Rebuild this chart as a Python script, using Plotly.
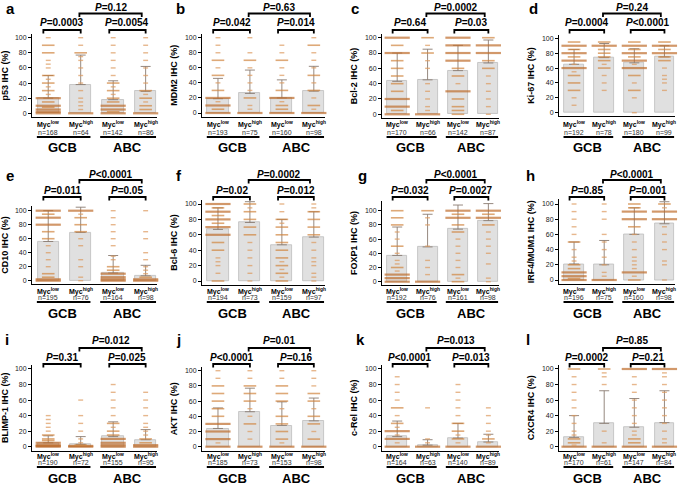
import plotly.graph_objects as go

W, H = 685, 487

letters = ["a", "b", "c", "d", "e", "f", "g", "h", "i", "j", "k", "l"]
ylabels = ["p53 IHC (%)", "MDM2 IHC (%)", "Bcl-2 IHC (%)", "Ki-67 IHC (%)",
           "CD10 IHC (%)", "Bcl-6 IHC (%)", "FOXP1 IHC (%)", "IRF4/MUM1 IHC (%)",
           "BLIMP-1 IHC (%)", "AKT IHC (%)", "c-Rel IHC (%)", "CXCR4 IHC (%)"]
groups = ["Myc<sup>low</sup>", "Myc<sup>high</sup>", "Myc<sup>low</sup>", "Myc<sup>high</sup>"]
subtypes = ["GCB", "ABC"]

# bar heights (mean) and top of error bar (mean + SD)
means = [[20, 38, 18, 29], [19, 26, 20, 29], [43, 45, 57, 67], [65, 74, 67, 75],
         [56, 69, 11, 7], [67, 76, 47, 57], [37, 49, 74, 86], [21, 20, 60, 74],
         [5, 3, 13, 9], [24, 46, 28, 34], [13, 2, 11, 6], [12, 30, 25, 31]]
caps = [[50, 77, 43, 62], [46, 57, 44, 62], [80, 85, 90, 97], [85, 93, 86, 90],
        [100, 105, 36, 22], [95, 103, 80, 90], [77, 95, 108, 110], [50, 52, 95, 103],
        [14, 13, 32, 22], [51, 77, 59, 64], [33, 9, 30, 16], [40, 72, 62, 72]]
ns = [[168, 64, 142, 86], [193, 75, 160, 98], [170, 66, 142, 87], [192, 78, 180, 99],
      [195, 76, 164, 98], [194, 73, 159, 97], [192, 76, 161, 98], [196, 75, 160, 98],
      [190, 72, 155, 95], [185, 73, 153, 98], [164, 63, 140, 89], [170, 61, 147, 84]]
p_gcb = ["=0.0003", "=0.042", "=0.64", "=0.0004", "=0.011", "=0.02", "=0.032", "=0.85",
         "=0.31", "&lt;0.0001", "&lt;0.0001", "=0.0002"]
p_abc = ["=0.0054", "=0.014", "=0.03", "&lt;0.0001", "=0.05", "=0.012", "=0.0027", "=0.001",
         "=0.025", "=0.16", "=0.013", "=0.21"]
p_top = ["=0.12", "=0.63", "=0.0002", "=0.24", "&lt;0.0001", "=0.0002", "&lt;0.0001", "&lt;0.0001",
         "=0.012", "=0.01", "=0.013", "=0.85"]

# observed score levels per bar: [value, density (1 sparse .. 3 dense)]
lv_a = [[[0,3],[2,3],[5,3],[8,2],[10,3],[15,2],[20,3],[25,1],[30,2],[35,1],[40,2],[45,1],[50,2],[60,1],[65,1],[70,1],[80,2],[90,2],[100,1]],
        [[0,3],[5,1],[10,1],[15,1],[20,1],[30,1],[40,1],[50,1],[60,1],[70,1],[75,1],[80,2],[90,1],[100,1]],
        [[0,3],[2,2],[5,3],[10,3],[15,2],[20,2],[25,1],[30,2],[35,1],[40,2],[50,1],[60,1],[70,1],[80,1],[90,1],[100,1]],
        [[0,3],[5,2],[10,2],[15,1],[20,2],[25,1],[30,2],[40,1],[50,1],[60,1],[70,1],[80,1],[90,1],[100,1]]]
lv_b = [[[0,3],[5,2],[10,3],[15,1],[20,3],[30,2],[40,1],[50,2],[60,1],[70,2],[80,1],[90,1],[100,1]],
        [[0,3],[5,1],[10,1],[20,2],[30,1],[40,1],[50,1],[60,1],[70,2],[80,1],[100,1]],
        [[0,3],[5,2],[10,2],[15,1],[20,3],[30,2],[40,1],[50,1],[60,1],[70,2],[80,1],[90,1]],
        [[0,3],[5,1],[10,2],[20,1],[30,2],[40,1],[50,2],[60,1],[70,1],[80,1],[90,2],[100,1]]]
lv_c = [[[0,3],[5,2],[10,3],[20,3],[30,2],[40,2],[50,2],[60,2],[70,2],[80,3],[90,2],[100,3]],
        [[0,3],[5,1],[10,1],[20,1],[30,1],[40,1],[60,1],[70,1],[80,2],[90,1],[100,2]],
        [[0,2],[5,2],[10,2],[20,2],[30,3],[40,1],[50,2],[60,2],[70,3],[80,3],[90,3],[100,3]],
        [[0,1],[10,1],[20,1],[30,1],[40,1],[50,1],[60,2],[70,2],[80,3],[90,3],[100,2]]]
lv_d = [[[10,1],[20,1],[30,2],[40,2],[50,2],[55,1],[60,3],[65,1],[70,3],[75,2],[80,3],[85,2],[90,3],[95,2]],
        [[30,1],[40,1],[50,1],[60,2],[65,1],[70,2],[75,2],[80,2],[85,2],[90,3],[95,2]],
        [[0,1],[20,1],[30,2],[40,1],[50,2],[60,3],[65,1],[70,3],[75,2],[80,3],[85,2],[90,3],[95,2]],
        [[30,1],[40,1],[45,1],[50,1],[60,1],[70,2],[75,2],[80,3],[85,2],[90,3],[95,2]]]
lv_e = [[[0,3],[2,3],[5,2],[10,2],[20,1],[30,1],[40,1],[50,1],[60,2],[70,2],[80,3],[90,3],[95,2],[100,3]],
        [[0,1],[5,1],[20,1],[30,1],[50,1],[60,1],[70,2],[80,2],[90,2],[95,1],[100,3]],
        [[0,3],[2,3],[5,3],[10,3],[15,2],[20,2],[30,1],[35,1],[50,1],[60,1],[70,1],[80,1],[90,1],[100,1]],
        [[0,3],[2,3],[5,2],[10,1],[15,1],[20,1],[30,1],[40,1],[60,1],[70,1],[100,1]]]
lv_f = [[[0,2],[10,1],[20,1],[25,1],[30,1],[40,2],[50,2],[60,3],[70,3],[75,2],[80,3],[85,2],[90,3],[95,2],[100,3]],
        [[0,1],[10,1],[20,1],[30,1],[40,1],[50,1],[60,2],[70,2],[80,2],[90,2],[95,1],[100,2]],
        [[0,2],[5,1],[10,2],[15,1],[20,2],[25,1],[30,2],[40,2],[50,2],[60,2],[70,2],[75,1],[80,2],[90,1],[100,1]],
        [[0,1],[5,1],[10,1],[20,1],[25,1],[30,1],[40,1],[50,1],[60,2],[70,2],[80,2],[90,2],[95,1],[100,1]]]
lv_g = [[[0,3],[5,3],[10,3],[15,1],[20,2],[25,1],[30,1],[40,1],[50,2],[60,1],[70,1],[80,2],[90,2],[100,2]],
        [[0,3],[10,1],[20,1],[30,1],[50,1],[80,1],[90,1],[100,2]],
        [[0,2],[5,1],[10,2],[20,1],[30,1],[40,1],[50,1],[60,1],[70,2],[80,2],[90,3],[95,2],[100,3]],
        [[0,1],[5,1],[25,1],[40,1],[50,1],[60,1],[70,1],[80,2],[90,3],[95,2],[100,3]]]
lv_h = [[[0,3],[2,2],[5,3],[10,3],[15,2],[20,2],[25,1],[30,1],[40,1],[50,2],[60,1],[70,1],[80,1],[90,1],[100,1]],
        [[0,3],[5,1],[10,1],[20,1],[30,1],[40,1],[50,1],[60,1],[80,1],[90,1],[100,1]],
        [[0,2],[5,1],[10,3],[15,1],[20,1],[25,1],[30,1],[40,1],[50,1],[60,1],[70,2],[80,3],[90,3],[95,2],[100,2]],
        [[0,1],[20,1],[25,1],[40,1],[50,1],[60,1],[70,1],[80,3],[90,3],[95,1],[100,2]]]
lv_i = [[[0,3],[1,3],[2,3],[5,3],[8,2],[10,2],[15,2],[20,1],[25,1],[30,1],[35,1],[40,1]],
        [[0,3],[1,3],[2,2],[5,1],[10,1],[20,1],[30,1],[40,1],[60,1]],
        [[0,3],[2,3],[5,3],[10,3],[15,2],[20,2],[25,1],[30,2],[40,1],[50,1],[60,1],[70,1],[80,1]],
        [[0,3],[2,3],[5,2],[10,2],[15,1],[20,1],[25,1],[30,1],[40,1],[50,1],[60,1],[70,1]]]
lv_j = [[[0,3],[5,1],[10,3],[20,3],[30,3],[40,2],[50,2],[60,2],[70,2],[80,2],[90,1],[100,1]],
        [[0,3],[10,1],[20,1],[30,2],[40,1],[50,1],[60,2],[70,2],[80,2],[90,1],[100,1]],
        [[0,3],[5,1],[10,2],[20,2],[30,2],[40,2],[50,1],[60,2],[70,2],[80,2],[90,1],[100,1]],
        [[0,3],[10,2],[20,1],[30,2],[40,2],[50,1],[60,2],[70,2],[80,1],[90,1],[100,1]]]
lv_k = [[[0,3],[5,1],[10,3],[15,1],[20,3],[25,1],[30,2],[40,1],[50,2],[60,1],[70,1],[80,1],[90,1]],
        [[0,3],[5,1],[10,1],[50,1]],
        [[0,3],[5,1],[10,2],[15,1],[20,2],[30,2],[40,1],[50,1],[60,1],[70,1],[80,1]],
        [[0,3],[5,1],[10,2],[15,1],[20,1],[30,1],[40,1],[50,1]]]
lv_l = [[[0,3],[2,1],[5,2],[10,2],[15,1],[20,1],[30,1],[40,1],[50,1],[60,1],[70,1],[80,1],[90,1],[100,2]],
        [[0,3],[5,1],[20,1],[80,1],[90,1],[95,1],[100,2]],
        [[0,3],[5,2],[10,2],[15,1],[20,1],[30,1],[40,1],[50,1],[60,1],[70,1],[80,1],[90,1],[100,3]],
        [[0,3],[5,1],[10,1],[20,1],[30,1],[40,1],[50,1],[60,1],[70,1],[80,1],[90,1],[95,1],[100,3]]]
levels = [lv_a, lv_b, lv_c, lv_d, lv_e, lv_f, lv_g, lv_h, lv_i, lv_j, lv_k, lv_l]

# ---------------- layout geometry (pixels) ----------------
FONT = "Liberation Sans, Arial, sans-serif"
col_x = [32, 202, 382, 559]
col_w = [125, 123, 117, 116]
y_zero = [113.3, 113, 114.3, 112.7, 280.7, 281, 281.7, 280, 446.7, 446.7, 446.7, 446.7]
y_hund = [37.7, 37.7, 37.7, 38.3, 210.7, 204, 210.7, 204, 369, 370.7, 369, 369]
y_max = [105, 105, 105, 105, 107, 105, 114, 106, 105, 105, 105, 105]
lab_rows = [[125, 132, 137, 147], [291, 297, 302, 313], [456, 462, 467, 478]]
brk_rows = [[7, 13.5, 23, 30], [174, 180, 190, 197], [340, 348, 357, 364]]
letter_pos = [[5, 8], [175, 8], [350, 8], [528, 8],
              [5, 175], [175, 175], [357, 175], [525, 175],
              [4, 339], [175, 339], [355, 339], [525, 339]]
XR = [-0.5, 3.35]

def px(v):
    return v / W

def py(v):
    return 1 - v / H

dot_size = {1: 3.5, 2: 9, 3: 18}
dot_lw = {1: 1.4, 2: 1.6, 3: 2.2}
dot_col = {1: "#dd9a5e", 2: "#d1853f", 3: "#bf6d2c"}

fig = go.Figure()
layout = dict(width=W, height=H, margin=dict(l=0, r=0, t=0, b=0), autosize=False,
              paper_bgcolor="white", plot_bgcolor="white", showlegend=False,
              bargap=0.0)
shapes, annots = [], []

for k in range(12):
    r, c = divmod(k, 4)
    s = "" if k == 0 else str(k + 1)
    xr, yr = "x" + s, "y" + s
    x0, w = col_x[c], col_w[c]
    ppu = (y_zero[k] - y_hund[k]) / 100.0
    yb = y_zero[k] + 5 * ppu
    yt = y_hund[k] - (y_max[k] - 100) * ppu
    layout["xaxis" + s] = dict(domain=[px(x0), px(x0 + w)], range=XR, anchor=yr,
                               showline=True, linecolor="black", linewidth=1,
                               showticklabels=False, ticks="", showgrid=False,
                               zeroline=False, fixedrange=True)
    layout["yaxis" + s] = dict(domain=[py(yb), py(yt)], range=[-5, y_max[k]], anchor=xr,
                               showline=True, linecolor="black", linewidth=1,
                               ticks="outside", ticklen=3, tickwidth=1, tickcolor="black",
                               tickvals=[0, 20, 40, 60, 80, 100], fixedrange=True,
                               tickfont=dict(size=7, family=FONT, color="#222"),
                               showgrid=False, zeroline=False,
                               title=dict(text="<b>" + ylabels[k] + "</b>",
                                          font=dict(size=9, family=FONT, color="black"),
                                          standoff=5))
    # bars with upper SD whiskers
    fig.add_trace(go.Bar(x=[0, 1, 2, 3], y=means[k], width=0.66, xaxis=xr, yaxis=yr,
                         marker=dict(color="rgba(216,216,216,0.8)",
                                     line=dict(color="#bcbcbc", width=0.8)),
                         error_y=dict(type="data", symmetric=False,
                                      array=[cp - m for cp, m in zip(caps[k], means[k])],
                                      arrayminus=[0, 0, 0, 0], color="#8a7c72",
                                      thickness=0.9, width=5)))
    # score dots
    for i in range(4):
        vals = [v for v, _ in levels[k][i]]
        wts = [d for _, d in levels[k][i]]
        fig.add_trace(go.Scatter(x=[i] * len(vals), y=vals, mode="markers", xaxis=xr, yaxis=yr,
                                 cliponaxis=False, hoverinfo="skip",
                                 marker=dict(symbol="line-ew",
                                             size=[dot_size[d] for d in wts],
                                             color=[dot_col[d] for d in wts],
                                             line=dict(width=[dot_lw[d] for d in wts],
                                                       color=[dot_col[d] for d in wts]))))
    # group labels
    lr = lab_rows[r]
    for i in range(4):
        annots.append(dict(x=i, y=py(lr[0]), xref=xr, yref="paper", showarrow=False,
                           text="<b>" + groups[i] + "</b>", yanchor="middle", borderpad=0,
                           font=dict(size=7, family=FONT, color="black")))
        annots.append(dict(x=i, y=py(lr[1]), xref=xr, yref="paper", showarrow=False,
                           text="n=" + str(ns[k][i]), yanchor="middle", borderpad=0,
                           font=dict(size=7, family=FONT, color="#333")))
    for gi, (a, b) in enumerate([(-0.35, 1.3), (1.6, 3.32)]):
        shapes.append(dict(type="line", xref=xr, yref="paper", x0=a, x1=b,
                           y0=py(lr[2]), y1=py(lr[2]), line=dict(color="black", width=2.2)))
        annots.append(dict(x=(0.45 if gi == 0 else 2.45), y=py(lr[3]), xref=xr, yref="paper",
                           showarrow=False, text="<b>" + subtypes[gi] + "</b>", yanchor="middle",
                           borderpad=0, font=dict(size=13, family=FONT, color="black")))
    # significance brackets
    br = brk_rows[r]
    for (a, b, ty, ly, ptxt) in [(-0.15, 1.0, br[2], br[3], p_gcb[k]),
                                 (1.88, 3.0, br[2], br[3], p_abc[k]),
                                 (0.96, 2.88, br[0], br[1], p_top[k])]:
        shapes.append(dict(type="path", xref=xr, yref="paper",
                           path="M %f,%f L %f,%f L %f,%f L %f,%f" % (a, py(ly + 3.5), a, py(ly),
                                                                   b, py(ly), b, py(ly + 3.5)),
                           line=dict(color="black", width=1.8)))
        annots.append(dict(x=(a + b) / 2, y=py(ty), xref=xr, yref="paper", showarrow=False,
                           text="<b><i>P</i>" + ptxt + "</b>", yanchor="middle", borderpad=0,
                           font=dict(size=10, family=FONT, color="black")))
    # panel letter
    lx, ly = letter_pos[k]
    annots.append(dict(x=px(lx), y=py(ly), xref="paper", yref="paper", showarrow=False,
                       text="<b>" + letters[k] + "</b>", xanchor="left", yanchor="middle",
                       borderpad=0, font=dict(size=15, family=FONT, color="black")))

layout["shapes"] = shapes
layout["annotations"] = annots
fig.update_layout(**layout)
fig.write_html("out.html", config={"displayModeBar": False},
               post_script="document.body.style.margin='0px';document.body.style.padding='0px';")
